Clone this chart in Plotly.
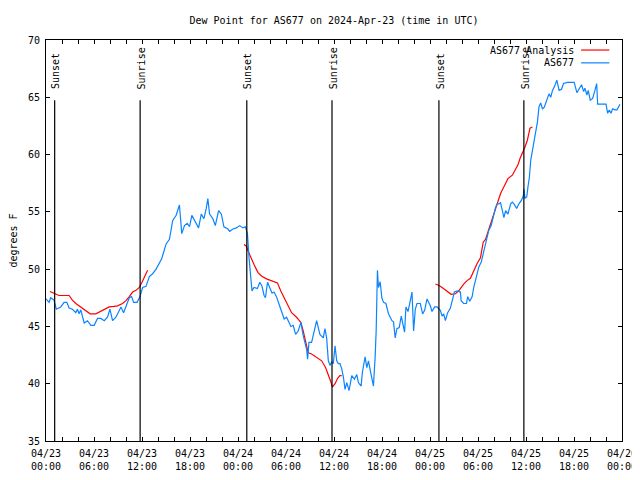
import pandas as pd
import plotly.graph_objects as go

START = pd.Timestamp("2024-04-23 00:00")
END = pd.Timestamp("2024-04-26 00:00")

# Observed dew point (hours after 04/23 00:00 UTC, degrees F)
BLUE_HOURS = [0.0,0.38,0.59,1.0,1.29,1.84,2.26,2.6,2.89,3.3,3.73,3.93,4.14,4.35,4.77,5.18,5.61,6.02,6.44,6.86,
    7.28,7.69,7.99,8.32,8.74,9.03,9.37,9.7,10.0,10.41,10.7,10.95,11.38,11.75,12.08,12.5,12.92,13.33,13.76,14.17,
    14.46,14.71,15.02,15.43,15.84,16.27,16.68,16.97,17.31,17.65,17.94,18.23,18.65,19.07,19.41,19.74,20.03,20.23,20.45,20.86,
    21.16,21.58,21.92,22.24,22.74,22.96,23.37,23.8,24.21,24.62,24.93,25.18,25.38,25.59,25.75,26.0,26.43,26.72,27.0,27.26,
    27.43,27.69,27.97,28.26,28.51,28.81,29.1,29.44,29.77,30.07,30.36,30.61,30.9,31.2,31.52,31.86,32.15,32.36,32.58,32.7,
    32.87,33.2,33.41,33.83,34.24,34.66,34.87,35.08,35.29,35.5,35.71,35.91,36.13,36.34,36.54,36.75,36.97,37.17,37.38,37.6,
    37.88,38.22,38.55,38.85,39.05,39.39,39.55,39.89,40.1,40.31,40.52,40.73,40.93,41.14,41.27,41.43,41.56,41.77,41.98,42.19,
    42.49,42.81,43.24,43.44,43.65,43.86,44.15,44.41,44.57,44.82,44.99,45.25,45.54,45.75,45.95,46.16,46.37,46.79,47.08,47.33,
    47.63,48.04,48.25,48.58,48.88,49.29,49.51,49.71,49.92,50.21,50.55,50.76,51.05,51.39,51.8,51.89,52.21,52.55,52.72,52.97,
    53.27,53.47,53.81,54.1,54.4,54.65,54.81,55.06,55.35,55.65,55.9,56.07,56.2,56.41,56.61,56.82,57.03,57.24,57.45,57.74,
    58.08,58.29,58.49,58.83,59.12,59.42,59.67,59.74,59.87,60.09,60.25,60.42,60.59,60.8,61.0,61.21,61.43,61.63,61.84,62.05,
    62.26,62.47,62.68,62.88,63.09,63.31,63.6,63.85,64.14,64.44,64.69,65.19,65.6,66.02,66.36,66.65,66.95,67.2,67.36,67.61,
    67.78,68.03,68.33,68.62,68.83,68.96,69.37,70.0,70.21,70.41,70.62,70.83,71.12,71.37,71.75]
BLUE_DEW = [47.4,47.1,47.5,47.3,46.5,46.7,47.1,47.1,46.6,46.5,46.2,46.5,46.1,46.45,45.3,45.5,45.1,45.1,45.7,45.7,
    45.5,45.8,46.5,45.5,45.8,46.2,46.7,46.2,46.8,47.5,47.6,47.1,47.1,47.6,48.4,48.5,49.35,49.6,50.0,50.5,
    50.9,51.5,52.2,52.6,54.25,54.7,55.6,53.1,53.8,54.0,53.7,54.7,54.1,53.6,54.8,54.4,55.3,56.15,54.8,54.4,
    53.8,55.1,54.8,53.7,53.5,53.3,53.5,53.6,53.8,53.6,53.7,53.1,51.0,49.6,48.1,48.4,48.3,48.85,48.5,47.7,
    47.5,48.85,48.4,47.9,48.0,47.6,47.0,46.4,45.65,45.8,45.4,45.0,45.1,44.3,44.6,45.35,44.2,43.6,43.0,42.15,
    43.6,43.6,44.3,45.5,44.3,44.0,44.8,44.0,42.0,41.6,41.9,41.75,43.3,42.0,41.75,41.75,41.3,40.6,39.5,40.1,
    39.4,40.7,40.4,40.8,40.1,39.8,41.0,42.35,41.4,42.0,41.2,40.5,39.8,42.3,44.6,49.9,48.4,48.9,47.5,47.1,
    47.0,46.1,45.5,45.4,44.0,44.8,44.9,45.9,45.3,44.5,46.7,46.3,47.25,48.0,44.6,46.5,47.0,47.0,46.1,46.4,
    47.4,46.8,46.3,46.7,46.7,46.4,45.9,46.1,45.5,46.2,46.6,47.25,48.0,48.1,48.0,47.25,47.0,47.0,47.6,47.2,
    47.6,48.4,49.3,50.2,50.6,51.3,51.9,52.5,53.4,53.8,54.5,55.1,55.4,55.7,55.7,55.8,55.25,54.5,55.1,54.8,
    55.7,55.85,55.7,55.3,55.7,56.0,56.4,57.0,56.2,56.3,57.2,58.0,59.5,60.4,61.1,61.9,62.85,64.2,64.5,64.0,
    64.1,64.5,65.0,65.3,65.0,65.6,66.0,66.5,65.6,65.7,66.2,66.3,66.3,66.3,65.4,65.8,66.1,65.5,65.8,65.2,
    65.6,64.75,64.9,65.6,66.2,64.4,64.4,64.4,63.6,63.9,63.6,64.0,63.9,63.9,64.4]

# Analysis dew point, three overnight segments
RED1_HOURS = [0.5,1.0,1.63,2.89,3.3,3.73,4.14,4.55,4.98,5.52,6.23,6.86,7.28,7.9,8.53,8.94,9.57,10.0,10.41,10.83,
    11.25,11.67,12.0,12.29,12.5,12.7]
RED1_DEW = [48.05,47.9,47.7,47.7,47.3,47.0,46.8,46.6,46.4,46.1,46.1,46.3,46.5,46.7,46.75,46.8,47.0,47.25,47.6,48.0,
    48.15,48.4,48.85,49.35,49.7,49.9]
RED2_HOURS = [24.75,25.05,25.25,25.59,26.0,26.5,26.93,27.56,28.18,28.93,29.35,29.77,30.19,30.7,31.32,31.86,32.15,32.36,32.58,32.78,
    33.2,33.83,34.46,34.96,35.29,35.59,35.79,36.13,36.47,36.75,36.97]
RED2_DEW = [52.15,52.0,51.6,51.0,50.4,49.7,49.4,49.15,49.0,48.8,48.1,47.5,46.8,46.2,45.8,45.35,44.6,44.0,43.4,42.7,
    42.6,42.3,42.0,41.4,40.8,40.2,39.7,40.0,40.5,40.7,40.7]
RED3_HOURS = [48.67,49.08,49.51,50.14,50.64,51.18,51.59,52.21,52.63,53.05,53.47,53.89,54.31,54.65,54.94,55.23,55.56,55.77,56.07,56.41,
    56.82,57.24,57.74,58.29,58.71,59.0,59.25,59.55,59.84,60.17,60.5,60.8]
RED3_DEW = [48.7,48.6,48.4,48.1,47.8,47.85,48.1,48.7,49.0,49.2,49.9,50.5,51.0,52.35,52.6,53.2,53.95,54.5,55.1,55.7,
    56.6,57.2,57.9,58.2,58.8,59.1,59.65,60.1,60.6,61.25,62.3,62.4]

SUN_TIMES = ["2024-04-23 01:05", "2024-04-23 11:46", "2024-04-24 01:06",
             "2024-04-24 11:45", "2024-04-25 01:07", "2024-04-25 11:44"]
SUN_LABELS = ["Sunset", "Sunrise", "Sunset", "Sunrise", "Sunset", "Sunrise"]

TITLE = "Dew Point for AS677 on 2024-Apr-23 (time in UTC)"
Y_TITLE = "degrees F"
NAME_ANALYSIS = "AS677 Analysis"
NAME_OBS = "AS677"

FONT = "DejaVu Sans Mono"
BLUE = "#0a84ff"
RED = "#ff0000"


def to_time(hours):
    return START + pd.to_timedelta(pd.Series(hours, dtype=float), unit="h")


red_x, red_y = [], []
for hrs, vals in [(RED1_HOURS, RED1_DEW), (RED2_HOURS, RED2_DEW), (RED3_HOURS, RED3_DEW)]:
    red_x += list(to_time(hrs)) + [None]
    red_y += list(vals) + [None]

fig = go.Figure()
fig.add_trace(go.Scatter(x=red_x, y=red_y, mode="lines", name=NAME_ANALYSIS,
                         line=dict(color=RED, width=1.2), connectgaps=False, showlegend=False))
fig.add_trace(go.Scatter(x=list(to_time(BLUE_HOURS)), y=BLUE_DEW, mode="lines", name=NAME_OBS,
                         line=dict(color=BLUE, width=1.2), showlegend=False))

# sunrise / sunset markers
for t, lab in zip(SUN_TIMES, SUN_LABELS):
    fig.add_shape(type="line", xref="x", yref="paper", x0=t, x1=t, y0=0, y1=0.85,
                  line=dict(color="black", width=1.2))
    fig.add_annotation(x=t, xref="x", yref="paper", y=0.872, yanchor="bottom", xanchor="center",
                       text=lab, textangle=-90, showarrow=False, xshift=1,
                       font=dict(family=FONT, size=10, color="black"))

# legend, gnuplot style (text then line sample)
for name, col, py in [(NAME_ANALYSIS, RED, 0.975), (NAME_OBS, BLUE, 0.943)]:
    fig.add_annotation(x=0.92, y=py, xref="paper", yref="paper", xanchor="right", yanchor="middle",
                       text=name, showarrow=False, font=dict(family=FONT, size=10, color="black"))
    fig.add_shape(type="line", xref="paper", yref="paper", x0=0.929, x1=0.978, y0=py, y1=py,
                  line=dict(color=col, width=1.2))

tickvals = pd.date_range(START, END, freq="6h")
ticktext = [d.strftime("%m/%d") + "<br>" + d.strftime("%H:%M") for d in tickvals]

# the page body has an 8px margin, so the figure is sized to fit the 640x480 window
fig.update_layout(
    width=632, height=472,
    margin=dict(l=38, r=18, t=32, b=39, autoexpand=False),
    paper_bgcolor="white", plot_bgcolor="white",
    font=dict(family=FONT, size=10, color="black"),
    title=dict(text=TITLE, x=0.5, xref="paper", xanchor="center", y=1 - 12 / 472, yanchor="middle",
               font=dict(family=FONT, size=10, color="black")),
    showlegend=False,
)
fig.update_xaxes(
    range=[START, END], showgrid=False, zeroline=False, automargin=False,
    showline=True, linecolor="black", linewidth=1, mirror="ticks",
    tickmode="array", tickvals=list(tickvals), ticktext=ticktext,
    ticks="inside", ticklen=4, tickcolor="black", ticklabelstandoff=3,
    minor=dict(tickmode="linear", tick0=START, dtick=2 * 3600 * 1000, ticks="inside",
               ticklen=4, tickcolor="black", showgrid=False),
    tickfont=dict(family=FONT, size=10),
)
fig.update_yaxes(
    range=[35, 70], dtick=5, tick0=35, showgrid=False, zeroline=False, automargin=False,
    showline=True, linecolor="black", linewidth=1, mirror="ticks",
    ticks="inside", ticklen=4, tickcolor="black", ticklabelstandoff=3,
    title=dict(text=Y_TITLE, font=dict(family=FONT, size=10), standoff=12),
    tickfont=dict(family=FONT, size=10),
)

fig.write_html("out.html")
